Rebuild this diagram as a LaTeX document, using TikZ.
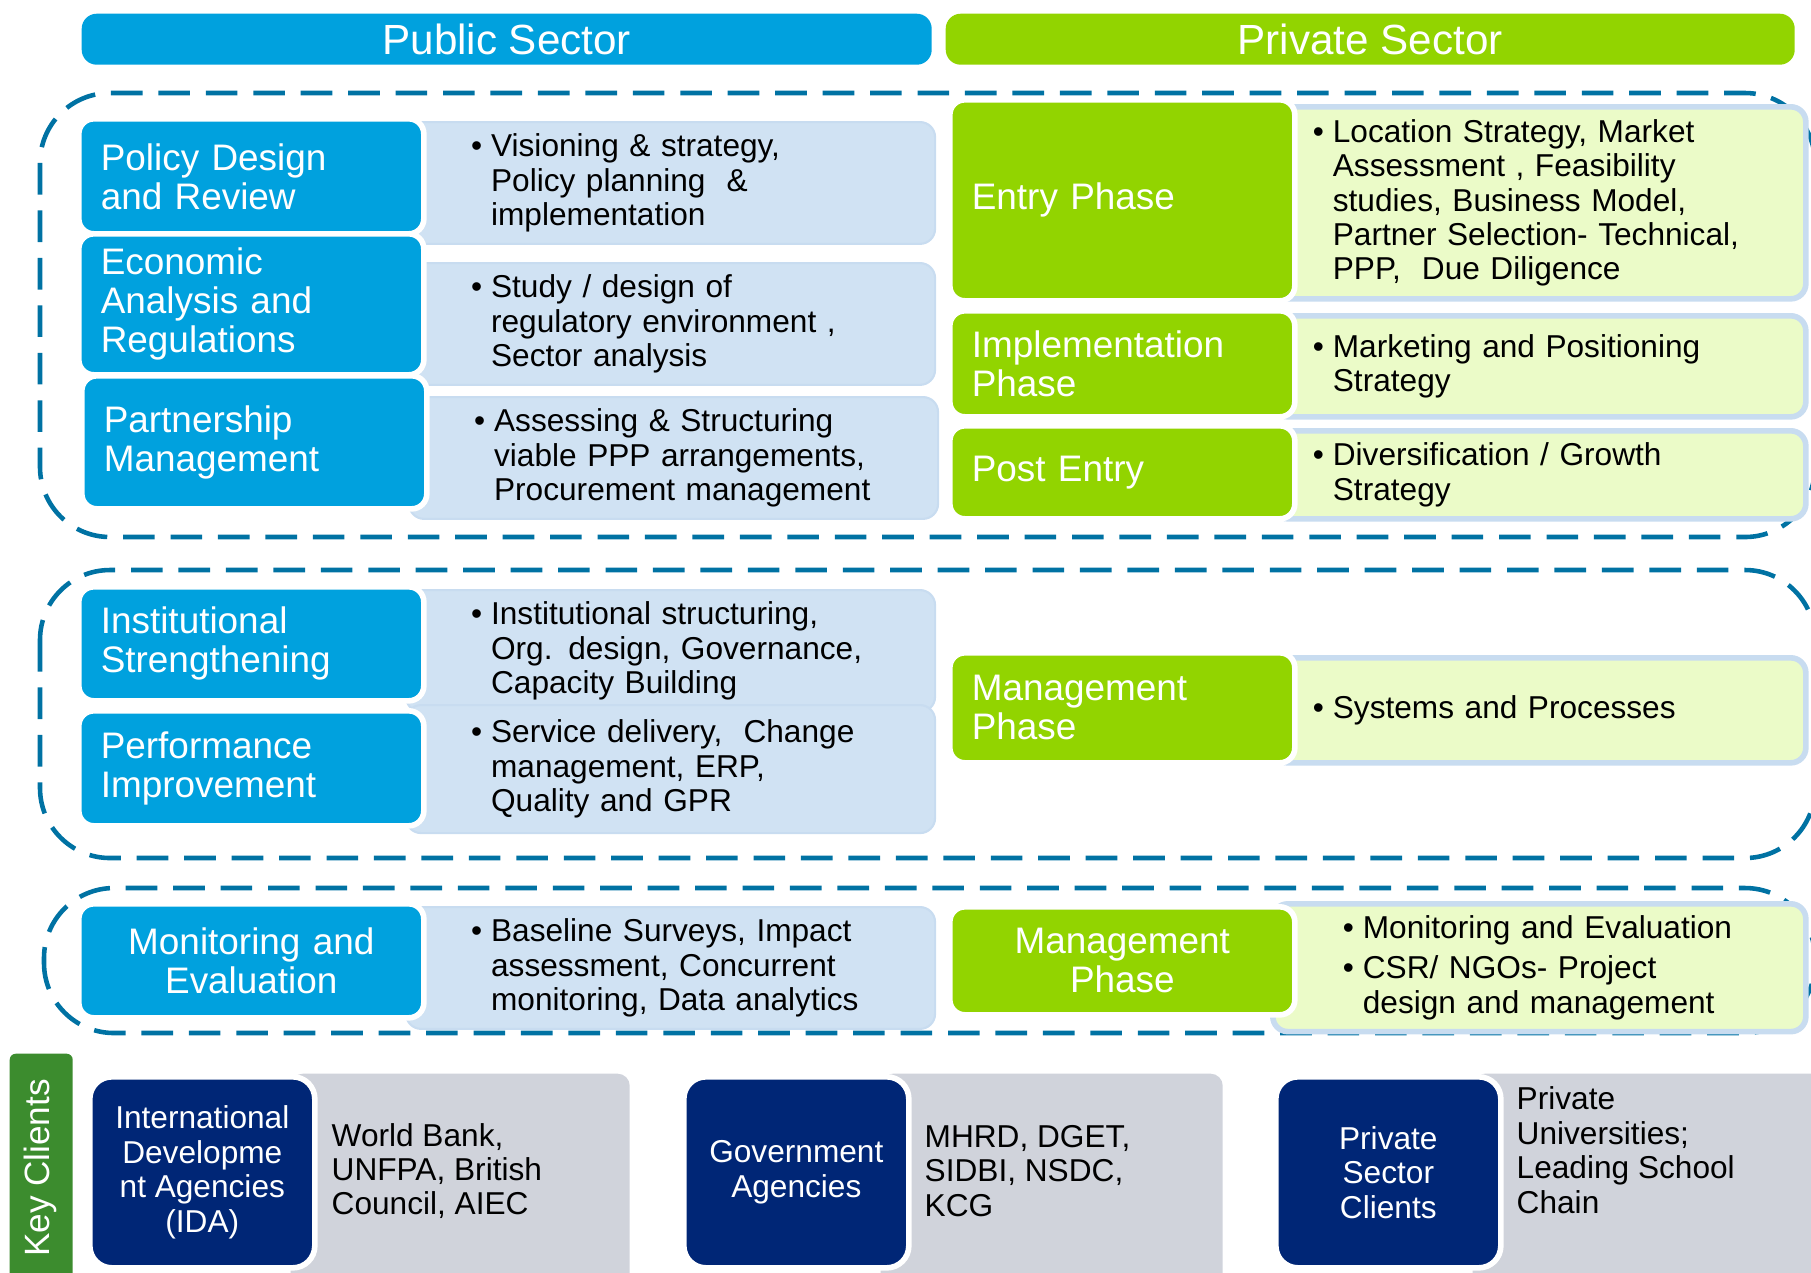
\documentclass[tikz,border=0pt]{standalone}
\usepackage{fontspec}
\setmainfont{Liberation Sans}

\definecolor{pubblue}{RGB}{0,161,222}
\definecolor{privgreen}{RGB}{146,212,0}
\definecolor{pubpale}{RGB}{208,226,243}
\definecolor{privpale}{RGB}{235,251,200}
\definecolor{paleedge}{RGB}{200,220,240}
\definecolor{zoneblue}{RGB}{0,114,163}
\definecolor{clientnavy}{RGB}{0,38,118}
\definecolor{clientgrey}{RGB}{208,211,219}
\definecolor{keygreen}{RGB}{60,140,46}

\newcommand{\itm}{\makebox[5.7pt][l]{\textbullet}}
\newcommand{\cnt}{\hspace*{5.7pt}}

\tikzset{
  head/.style={rounded corners=0.15cm, text=white, font=\fontsize{12}{14}\selectfont, inner sep=0pt, anchor=north west},
  pubhead/.style={head, fill=pubblue},
  privhead/.style={head, fill=privgreen},
  tag/.style={draw=white, line width=1.6pt, rounded corners=0.15cm, text=white,
    font=\fontsize{10.5}{11.1}\selectfont, align=left, inner xsep=0.22cm, text width=3.01cm,
    anchor=north west, xshift=-0.05cm, yshift=0.05cm},
  pubtag/.style={tag, fill=pubblue},
  privtag/.style={tag, fill=privgreen},
  info/.style={rounded corners=0.15cm, font=\fontsize{9}{9.8}\selectfont, align=left, anchor=north west},
  pubinfo/.style={info, fill=pubpale, draw=paleedge, line width=0.6pt, inner xsep=0.65cm, text width=3.99cm},
  privinfo/.style={info, fill=privpale, draw=paleedge, line width=1.6pt, inner xsep=0.4cm, text width=4.53cm},
  zone/.style={draw=zoneblue, line width=1.3pt, dash pattern=on 9pt off 4.5pt, rounded corners=0.7cm},
  clientbox/.style={fill=clientnavy, draw=white, line width=1.6pt, rounded corners=0.22cm, text=white,
    font=\fontsize{9}{9.8}\selectfont, align=center, inner sep=0pt, anchor=north west,
    minimum width=2.25cm, minimum height=1.91cm, xshift=-0.05cm, yshift=0.05cm},
  clientpanel/.style={fill=clientgrey, rounded corners=0.12cm, anchor=north west, minimum height=2.2cm},
  clienttxt/.style={font=\fontsize{9}{9.8}\selectfont, align=left, inner sep=0pt, anchor=west}
}

\begin{document}
\begin{tikzpicture}[x=1cm, y=-1cm]
  \useasboundingbox (0,0) rectangle (18.11,12.72);

  % dashed zones
  \draw[zone] (0.40,0.93) rectangle (18.15,5.37);
  \draw[zone] (0.40,5.70) rectangle (18.15,8.58);
  \draw[zone] (0.44,8.88) rectangle (18.15,10.33);

  % sector headers
  \node[pubhead, minimum width=8.50cm, minimum height=0.51cm] (pubsec) at (0.81,0.13) {Public Sector};
  \node[privhead, minimum width=8.49cm, minimum height=0.51cm] (privsec) at (9.45,0.13) {Private Sector};

  % public sector rows
  \node[pubinfo, minimum height=1.10cm] (policyinfo) at (4.05,1.21)
    {\itm Visioning \& strategy,\\\cnt Policy planning~~\&\\\cnt implementation};
  \node[pubtag, minimum height=1.15cm] (policy) at (0.81,1.21) {Policy Design\\and Review};

  \node[pubinfo, minimum height=1.10cm] (econinfo) at (4.05,2.62)
    {\itm Study / design of\\\cnt regulatory environment ,\\\cnt Sector analysis};
  \node[pubtag, minimum height=1.41cm] (econ) at (0.81,2.36) {Economic\\Analysis and\\Regulations};

  \node[pubinfo, minimum height=1.10cm] (partinfo) at (4.08,3.96)
    {\itm Assessing \& Structuring\\\cnt viable PPP arrangements,\\\cnt Procurement management};
  \node[pubtag, minimum height=1.33cm] (part) at (0.84,3.78) {Partnership\\Management};

  \node[pubinfo, minimum height=1.09cm] (instinfo) at (4.05,5.89)
    {\itm Institutional structuring,\\\cnt Org. design, Governance,\\\cnt Capacity Building};
  \node[pubtag, minimum height=1.14cm] (inst) at (0.81,5.89) {Institutional\\Strengthening};

  \node[pubinfo, minimum height=1.28cm] (perfinfo) at (4.05,7.04)
    {\itm Service delivery,~~Change\\\cnt management, ERP,\\\cnt Quality and GPR};
  \node[pubtag, minimum height=1.15cm] (perf) at (0.81,7.13) {Performance\\Improvement};

  \node[pubinfo, minimum height=1.09cm] (moninfo) at (4.05,9.06)
    {\itm Baseline Surveys, Impact\\\cnt assessment, Concurrent\\\cnt monitoring, Data analytics};
  \node[pubtag, minimum height=1.14cm, align=center] (mon) at (0.81,9.06) {Monitoring and\\Evaluation};

  % private sector rows
  \node[privinfo, minimum height=1.92cm] (entryinfo) at (12.70,1.04)
    {\itm Location Strategy, Market\\\cnt Assessment , Feasibility\\\cnt studies, Business Model,\\\cnt Partner Selection- Technical,\\\cnt PPP,~~Due Diligence};
  \node[privtag, minimum height=2.01cm] (entry) at (9.52,1.02) {Entry Phase};

  \node[privinfo, minimum height=1.01cm] (implinfo) at (12.70,3.13)
    {\itm Marketing and Positioning\\\cnt Strategy};
  \node[privtag, minimum height=1.06cm] (impl) at (9.52,3.13) {Implementation\\Phase};

  \node[privinfo, minimum height=0.88cm] (postinfo) at (12.70,4.28)
    {\itm Diversification / Growth\\\cnt Strategy};
  \node[privtag, minimum height=0.93cm] (post) at (9.52,4.28) {Post Entry};

  \node[privinfo, minimum height=1.05cm] (mgmtinfo) at (12.70,6.55)
    {\itm Systems and Processes};
  \node[privtag, minimum height=1.10cm] (mgmt) at (9.52,6.55) {Management\\Phase};

  \node[privinfo, minimum height=1.19cm, inner xsep=0.7cm, text width=3.93cm] (mgmtbinfo) at (12.70,9.01)
    {\itm Monitoring and Evaluation\\[1.7pt]\itm CSR/ NGOs- Project\\\cnt design and management};
  \node[privtag, minimum height=1.08cm, align=center] (mgmtb) at (9.52,9.09) {Management\\Phase};

  % key clients
  \node[fill=keygreen, rounded corners=0.06cm, anchor=north west, minimum width=0.63cm, minimum height=2.4cm] (keybar) at (0.09,10.53) {};
  \node[rotate=90, text=white, font=\fontsize{10}{12}\selectfont] (keylbl) at (0.405,11.68) {Key Clients};

  \node[clientpanel, minimum width=3.39cm] (idapanel) at (2.90,10.73) {};
  \node[clientbox] (ida) at (0.92,10.79) {International\\Developme\\nt Agencies\\(IDA)};
  \node[clienttxt] (idatxt) at (3.31,11.71) {World Bank,\\UNFPA, British\\Council, AIEC};

  \node[clientpanel, minimum width=3.42cm] (govpanel) at (8.80,10.73) {};
  \node[clientbox] (gov) at (6.86,10.79) {Government\\Agencies};
  \node[clienttxt] (govtxt) at (9.24,11.71) {MHRD, DGET,\\SIDBI, NSDC,\\KCG};

  \node[clientpanel, minimum width=3.60cm] (pscpanel) at (14.72,10.73) {};
  \node[clientbox] (psc) at (12.78,10.79) {Private\\Sector\\Clients};
  \node[clienttxt] (psctxt) at (15.16,11.50) {Private\\Universities;\\Leading School\\Chain};
\end{tikzpicture}
\end{document}
